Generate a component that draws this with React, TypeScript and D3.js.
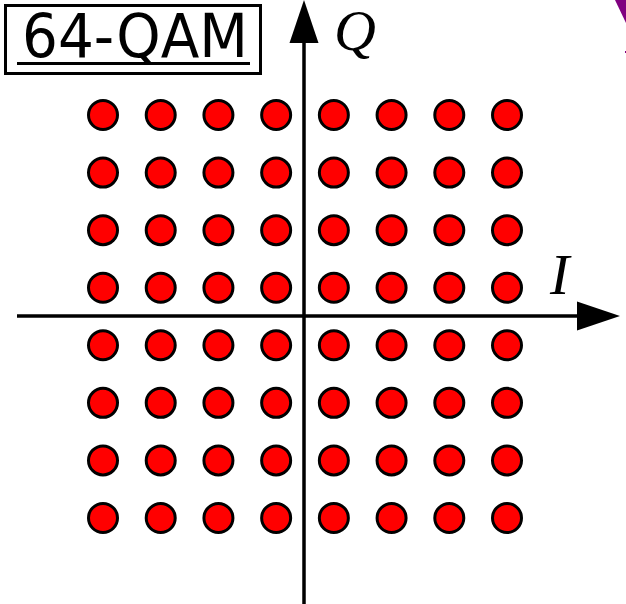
import React from "react";
import * as d3 from "d3";

const levels = [-7, -5, -3, -1, 1, 3, 5, 7];
const title = "64-QAM";
const xLabel = "I";
const yLabel = "Q";

const W = 626;
const H = 604;

export default function App() {
  const x = d3.scaleLinear().domain([-7, 7]).range([103, 507]);
  const y = d3.scaleLinear().domain([-7, 7]).range([518, 115]);
  const points = levels.flatMap((i) => levels.map((q) => ({ i, q })));
  const ax = 304;
  const ay = 316;
  return (
    <svg
      width={W}
      height={H}
      style={{ position: "absolute", left: 0, top: 0, background: "#fff" }}
    >
      <polygon points="615,0 626,0 626,23" fill="#800080" />
      <rect x={625} y={51} width={1.5} height={2} fill="#800080" />
      <line x1={17} y1={ay} x2={580} y2={ay} stroke="#000" strokeWidth={3.5} />
      <polygon points={`620,${ay} 577,${ay - 14.5} 577,${ay + 14.5}`} fill="#000" />
      <line x1={ax} y1={H} x2={ax} y2={40} stroke="#000" strokeWidth={3.5} />
      <polygon points={`${ax},0 ${ax - 14.5},43 ${ax + 14.5},43`} fill="#000" />
      {points.map((p, k) => (
        <circle
          key={k}
          cx={x(p.i)}
          cy={y(p.q)}
          r={14.5}
          fill="#ff0000"
          stroke="#000"
          strokeWidth={3}
        />
      ))}
      <text
        x={550}
        y={294}
        fontFamily="'Liberation Serif', 'Times New Roman', serif"
        fontStyle="italic"
        fontSize={58}
      >
        {xLabel}
      </text>
      <text
        x={334}
        y={50}
        fontFamily="'Liberation Serif', 'Times New Roman', serif"
        fontStyle="italic"
        fontSize={58}
      >
        {yLabel}
      </text>
      <rect x={5.5} y={5.5} width={255} height={68} fill="#fff" stroke="#000" strokeWidth={3} />
      <text
        x={22}
        y={57}
        fontFamily="'DejaVu Sans', sans-serif"
        fontSize={60}
        textLength={226}
        lengthAdjust="spacingAndGlyphs"
      >
        {title}
      </text>
      <line x1={17} y1={63.5} x2={250} y2={63.5} stroke="#000" strokeWidth={3} />
    </svg>
  );
}
